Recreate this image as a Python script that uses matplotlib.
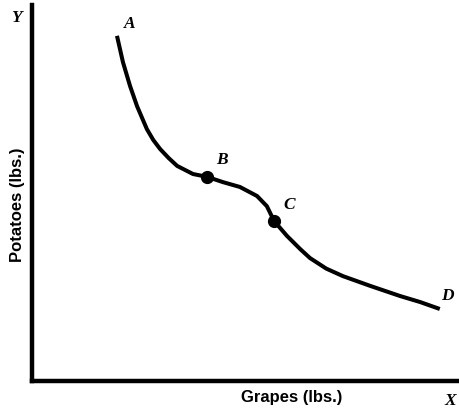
import matplotlib
matplotlib.use("Agg")
import matplotlib.pyplot as plt

# Indifference-curve style data (arbitrary units, 0-100)
grapes = [19.9, 21.3, 22.95, 24.6, 26.9, 28.4, 30.0, 32.0, 34.0, 37.7, 41.0, 44.7, 48.7, 52.7,
          55.0, 56.7, 59.7, 62.8, 65.1, 68.9, 72.8, 79.2, 86.2, 90.9, 95.5]
potatoes = [91.8, 84.8, 78.5, 73.1, 67.0, 64.1, 61.7, 59.3, 57.2, 55.05, 54.3, 52.9, 51.6, 49.2,
            46.5, 42.55, 38.6, 35.1, 32.7, 29.9, 27.9, 25.3, 22.6, 21.0, 19.15]
point_x = [41.0, 56.7]
point_y = [54.3, 42.55]
point_labels = ["A", "B", "C", "D"]
label_x = [22.95, 44.5, 60.2, 97.2]
label_y = [95.2, 59.0, 47.1, 22.9]

W, H = 459, 410
fig = plt.figure(figsize=(W / 100, H / 100), dpi=100)
ax = fig.add_axes([32 / W, (H - 382) / H, (W - 32) / W, (382 - 6) / H])
ax.set_xlim(0, 100)
ax.set_ylim(0, 100)
for s in ["top", "right"]:
    ax.spines[s].set_visible(False)
for s in ["left", "bottom"]:
    ax.spines[s].set_linewidth(3.2)
    ax.spines[s].set_capstyle("projecting")
ax.set_xticks([])
ax.set_yticks([])

ax.plot(grapes, potatoes, color="black", lw=2.9, solid_capstyle="butt",
        solid_joinstyle="round")
ax.plot(point_x, point_y, "o", color="black", ms=8.5)

lab_font = dict(family="Liberation Serif", style="italic", weight="bold",
                fontsize=12.5, color="black")
for t, x, y in zip(point_labels, label_x, label_y):
    ax.text(x, y, t, ha="center", va="center", **lab_font)
ax.text(-3.75, 96.8, "Y", ha="center", va="center", clip_on=False, **lab_font)
ax.text(97.9, -5.1, "X", ha="center", va="center", clip_on=False, **lab_font)

ax_font = dict(family="Liberation Sans", weight="bold", fontsize=12, color="black")
ax.text(60.7, -4.0, "Grapes (lbs.)", ha="center", va="center", clip_on=False, **ax_font)
ax.text(-3.4, 47.1, "Potatoes (lbs.)", ha="center", va="center", rotation=90,
        clip_on=False, **ax_font)

fig.savefig("out.png", dpi=100)
